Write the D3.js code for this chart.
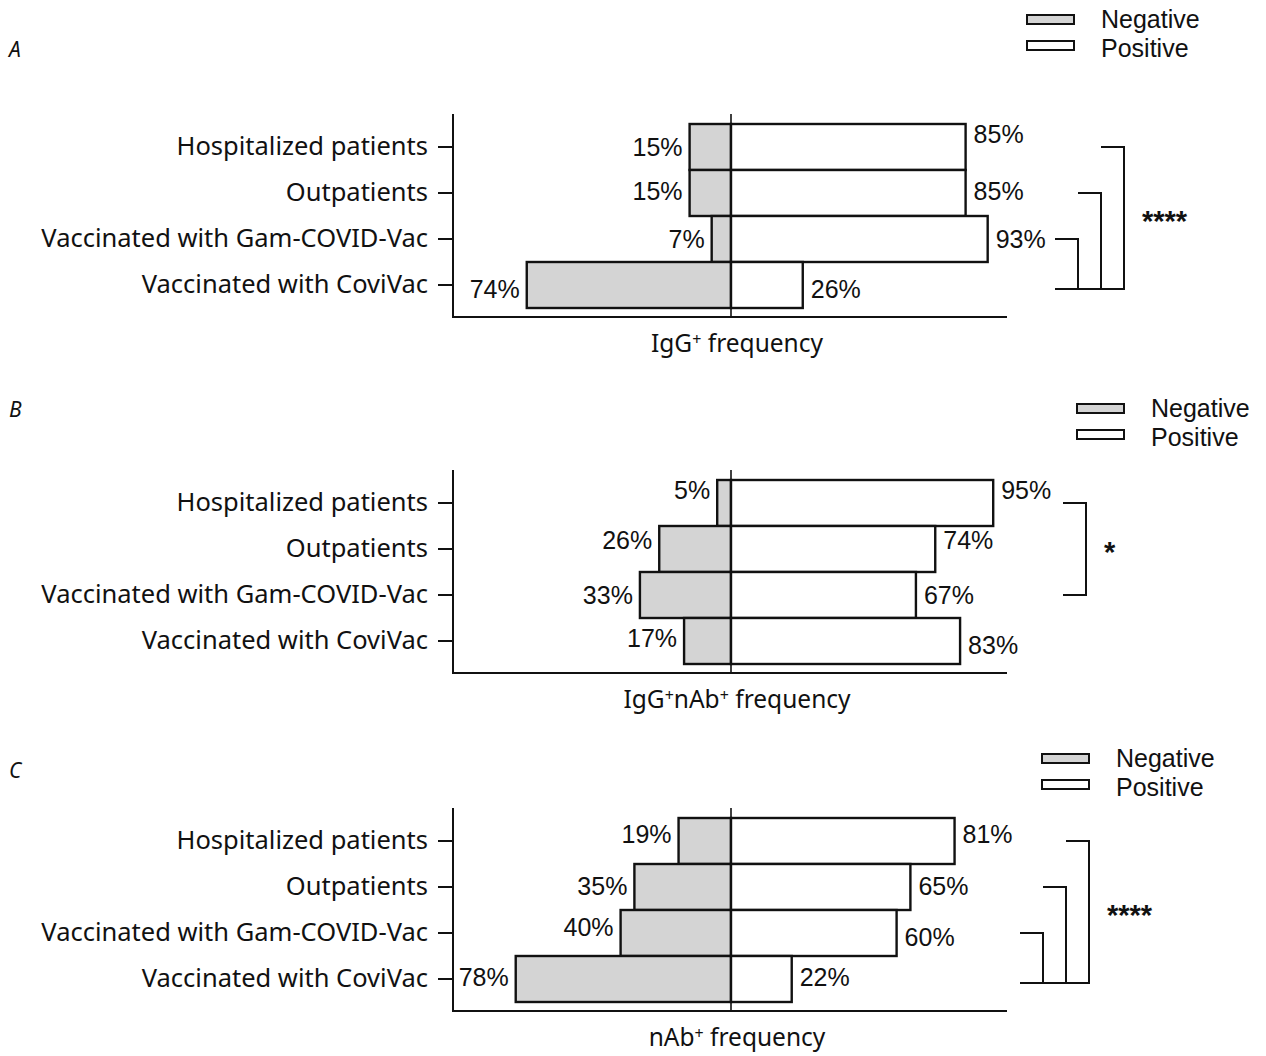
<!DOCTYPE html>
<html>
<head>
<meta charset="utf-8">
<title>Antibody frequency</title>
<style>
  body { margin: 0; background: #fff; }
  .cat { font-family: "Noto Sans", sans-serif; font-size: 25.5px; fill: #111; }
  .pct { font-family: "Liberation Sans", Arial, sans-serif; font-size: 25px; fill: #111; }
  .ttl { font-family: "Noto Sans", sans-serif; font-size: 24.5px; fill: #111; }
  .leg { font-family: "Liberation Sans", Arial, sans-serif; font-size: 25px; fill: #111; }
  .letter { font-family: "Noto Sans", sans-serif; font-size: 21px; font-style: italic; fill: #111; }
  .stars { font-family: "Liberation Sans", Arial, sans-serif; font-size: 29px; font-weight: bold; fill: #111; }
</style>
</head>
<body>
<script src="https://d3js.org/d3.v7.min.js"></script>
<script>
const categories = ["Hospitalized patients", "Outpatients", "Vaccinated with Gam-COVID-Vac", "Vaccinated with CoviVac"];

const negA = [15, 15, 7, 74];
const posA = [85, 85, 93, 26];
const negB = [5, 26, 33, 17];
const posB = [95, 74, 67, 83];
const negC = [19, 35, 40, 78];
const posC = [81, 65, 60, 22];

// axis titles as [text, superscript] pieces
const titles = [
  [["IgG", false], ["+", true], [" frequency", false]],
  [["IgG", false], ["+", true], ["nAb", false], ["+", true], [" frequency", false]],
  [["nAb", false], ["+", true], [" frequency", false]]
];
const letters = ["A", "B", "C"];
const legendLabels = ["Negative", "Positive"];

// significance brackets: [from category index, to category index]
const compA = [[2, 3], [1, 3], [0, 3]];
const compB = [[0, 2]];
const compC = [[2, 3], [1, 3], [0, 3]];
const starsA = "****", starsB = "*", starsC = "****";

const W = 1266, H = 1056;
const svg = d3.select("body").append("svg").attr("width", W).attr("height", H);

const x = d3.scaleLinear().domain([-100, 100]).range([455, 1007]);

const panels = [
  { neg: negA, pos: posA, top: 114, comps: compA, stars: starsA, bx: 1055, legX: 1027, legY: 15, letterY: 57,
    negDy: [0, -2, 0, 4], posDy: [-13, -2, 0, 4] },
  { neg: negB, pos: posB, top: 470, comps: compB, stars: starsB, bx: 1063, legX: 1077, legY: 404, letterY: 417,
    negDy: [-13, -9, 0, -3], posDy: [-13, -9, 0, 4] },
  { neg: negC, pos: posC, top: 808, comps: compC, stars: starsC, bx: 1020, legX: 1042, legY: 754, letterY: 778,
    negDy: [-7, -1, -6, -2], posDy: [-7, -1, 4, -2] }
];

panels.forEach((p, pi) => {
  const g = svg.append("g");
  const axTop = p.top, axBot = p.top + 203;
  const y = d3.scaleBand().domain(categories).range([p.top + 10, p.top + 194]).paddingInner(0);

  // bars
  g.selectAll(".neg").data(categories).join("rect")
    .attr("x", (d, i) => x(-p.neg[i]))
    .attr("y", d => y(d))
    .attr("width", (d, i) => x(0) - x(-p.neg[i]))
    .attr("height", y.bandwidth())
    .attr("fill", "#d4d4d4").attr("stroke", "#111").attr("stroke-width", 2.4);

  g.selectAll(".pos").data(categories).join("rect")
    .attr("x", x(0))
    .attr("y", d => y(d))
    .attr("width", (d, i) => x(p.pos[i]) - x(0))
    .attr("height", y.bandwidth())
    .attr("fill", "#fff").attr("stroke", "#111").attr("stroke-width", 2.4);

  // center line
  g.append("line").attr("x1", x(0)).attr("x2", x(0)).attr("y1", axTop).attr("y2", axBot)
    .attr("stroke", "#111").attr("stroke-width", 1.6);

  // left axis
  const yAxis = g.append("g").attr("transform", `translate(453,0)`)
    .call(d3.axisLeft(y).tickSize(15).tickPadding(10));
  yAxis.select(".domain").remove();
  yAxis.selectAll(".tick line").attr("stroke", "#111").attr("stroke-width", 2);
  yAxis.selectAll(".tick text").attr("class", "cat").attr("font-size", null).attr("font-family", null).attr("fill", null);
  g.append("line").attr("x1", 453).attr("x2", 453).attr("y1", axTop).attr("y2", axBot + 1)
    .attr("stroke", "#111").attr("stroke-width", 2);
  g.append("line").attr("x1", 452).attr("x2", x(100)).attr("y1", axBot).attr("y2", axBot)
    .attr("stroke", "#111").attr("stroke-width", 2);

  // value labels
  g.selectAll(".nl").data(categories).join("text").attr("class", "pct")
    .attr("x", (d, i) => x(-p.neg[i]) - 7)
    .attr("y", (d, i) => y(d) + y.bandwidth() / 2 + p.negDy[i])
    .attr("dy", "0.35em").attr("text-anchor", "end")
    .text((d, i) => p.neg[i] + "%");
  g.selectAll(".pl").data(categories).join("text").attr("class", "pct")
    .attr("x", (d, i) => x(p.pos[i]) + 8)
    .attr("y", (d, i) => y(d) + y.bandwidth() / 2 + p.posDy[i])
    .attr("dy", "0.35em").attr("text-anchor", "start")
    .text((d, i) => p.pos[i] + "%");

  // axis title with superscripts
  const t = g.append("text").attr("class", "ttl").attr("x", 737).attr("y", axBot + 35)
    .attr("text-anchor", "middle");
  titles[pi].forEach(([s, sup]) => {
    const ts = t.append("tspan").text(s);
    if (sup) ts.attr("font-size", "16px").attr("baseline-shift", "7px");
  });

  // panel letter
  g.append("text").attr("class", "letter").attr("x", 9).attr("y", p.letterY).text(letters[pi]);

  // legend
  const fills = ["#d4d4d4", "#fff"];
  legendLabels.forEach((lab, li) => {
    g.append("rect").attr("x", p.legX).attr("y", p.legY + li * 26).attr("width", 47).attr("height", 9)
      .attr("fill", fills[li]).attr("stroke", "#111").attr("stroke-width", 2);
    g.append("text").attr("class", "leg").attr("x", p.legX + 74).attr("y", p.legY + li * 29 + 4)
      .attr("dy", "0.35em").text(lab);
  });

  // significance brackets
  const bw = 23;
  let bottomY = 0;
  p.comps.forEach((c, ci) => {
    const x0 = p.bx + ci * bw, x1 = x0 + bw;
    const y0 = y(categories[c[0]]) + y.bandwidth() / 2;
    const y1 = y(categories[c[1]]) + y.bandwidth() / 2 + (c[1] === 3 ? 4 : 0);
    bottomY = y1;
    g.append("path")
      .attr("d", `M${x0},${y0}H${x1}V${y1}H${x0}`)
      .attr("fill", "none").attr("stroke", "#111").attr("stroke-width", 2);
  });
  const firstTop = y(categories[p.comps[p.comps.length - 1][0]]) + y.bandwidth() / 2;
  g.append("text").attr("class", "stars")
    .attr("x", p.bx + p.comps.length * bw + 18)
    .attr("y", (firstTop + bottomY) / 2 + 13)
    .text(p.stars);
});
</script>
</body>
</html>
